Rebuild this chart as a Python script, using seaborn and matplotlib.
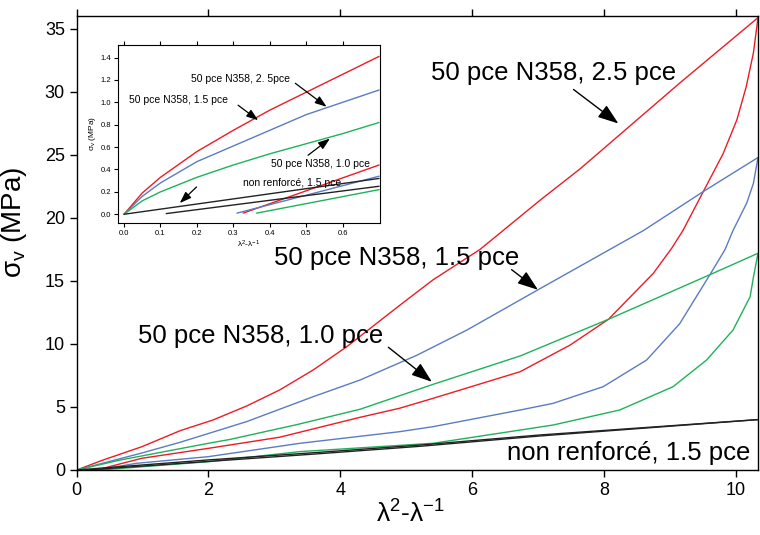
import numpy as np
import pandas as pd
import matplotlib
matplotlib.use("Agg")
import matplotlib.pyplot as plt
import seaborn as sns

# courbes principales (charge puis décharge)
red_up_x = [0, 0.4, 0.99, 1.57, 2.07, 2.58, 3.08, 3.59, 4.10, 4.91, 5.41, 6.12, 7.03, 7.64, 9.15, 10.34]
red_up_y = [0, 0.79, 1.85, 3.12, 3.97, 5.08, 6.35, 7.94, 9.79, 13.1, 15.1, 17.5, 21.4, 23.9, 30.7, 35.9]
red_dn_x = [0.3, 0.99, 2.0, 3.08, 4.30, 4.9, 5.41, 6.73, 7.49, 8.07, 8.75, 9.03, 9.2, 9.51,
            9.81, 10.02, 10.16, 10.27, 10.34]
red_dn_y = [0, 0.93, 1.72, 2.6, 4.18, 4.9, 5.69, 7.8, 9.92, 11.96, 15.6, 17.6, 19.0, 22.1,
            25.1, 27.8, 30.4, 33.1, 35.9]

blue_up_x = [0, 0.99, 1.57, 2.58, 3.59, 4.30, 5.16, 5.92, 7.0, 8.09, 8.6, 9.51, 10.34]
blue_up_y = [0, 1.35, 2.2, 3.84, 5.82, 7.14, 9.1, 11.1, 14.3, 17.5, 19.0, 22.1, 24.8]
blue_dn_x = [0.3, 0.91, 2.0, 3.39, 4.9, 5.41, 6.73, 7.23, 7.99, 8.65, 9.15, 9.61, 9.84,
             9.96, 10.17, 10.27, 10.34]
blue_dn_y = [0, 0.53, 1.06, 2.12, 3.04, 3.44, 4.76, 5.29, 6.61, 8.73, 11.6, 15.5, 17.5,
             19.0, 21.2, 22.75, 24.8]

green_up_x = [0, 0.66, 2.0, 2.33, 3.34, 4.30, 5.41, 6.73, 8.07, 9.61, 10.34]
green_up_y = [0, 0.79, 2.12, 2.43, 3.6, 4.82, 6.8, 9.05, 11.96, 15.5, 17.2]
green_dn_x = [0.35, 2.0, 3.39, 5.41, 6.73, 7.23, 8.24, 9.05, 9.56, 9.96, 10.22, 10.27, 10.34]
green_dn_y = [0, 0.66, 1.46, 2.12, 3.17, 3.57, 4.76, 6.61, 8.73, 11.1, 13.75, 15.3, 17.2]

black_up_x = [0, 2.0, 3.62, 5.21, 7.03, 10.34]
black_up_y = [0, 0.8, 1.38, 1.98, 2.78, 4.0]
black_dn_x = [0.15, 2.0, 3.62, 5.21, 7.03, 10.34]
black_dn_y = [0, 0.68, 1.27, 1.88, 2.7, 4.0]

# encart (petites déformations)
in_x = [0, 0.05, 0.1, 0.2, 0.3, 0.4, 0.5, 0.6, 0.7]
in_red_y = [0, 0.19, 0.33, 0.56, 0.75, 0.93, 1.09, 1.25, 1.41]
in_blue_y = [0, 0.16, 0.28, 0.47, 0.61, 0.75, 0.89, 1.00, 1.11]
in_green_y = [0, 0.12, 0.20, 0.33, 0.44, 0.54, 0.63, 0.72, 0.82]
in_red_dn_x = [0.327, 0.70]
in_red_dn_y = [0.01, 0.44]
in_blue_dn_x = [0.31, 0.5, 0.70]
in_blue_dn_y = [0.01, 0.17, 0.34]
in_green_dn_x = [0.364, 0.70]
in_green_dn_y = [0.01, 0.22]
in_black_up_x = [0, 0.70]
in_black_up_y = [0, 0.32]
in_black_dn_x = [0.116, 0.70]
in_black_dn_y = [0.006, 0.25]

ROUGE = "#ec1c24"
BLEU = "#5a7cc2"
VERT = "#1fb25a"
NOIR = "#222222"

sns.set_style("ticks")
plt.rcParams['font.family'] = ['Liberation Sans', 'DejaVu Sans']
plt.rcParams['mathtext.fontset'] = 'custom'
plt.rcParams['mathtext.rm'] = 'Liberation Sans'
plt.rcParams['mathtext.it'] = 'Liberation Sans:italic'
plt.rcParams['text.color'] = 'black'
plt.rcParams['axes.labelcolor'] = 'black'
plt.rcParams['xtick.color'] = 'black'
plt.rcParams['ytick.color'] = 'black'

fig = plt.figure(figsize=(7.6, 5.35), dpi=100)
ax = fig.add_axes([0.1009, 0.1215, 0.8965, 0.8486])

courbes = [
    (red_up_x, red_up_y, ROUGE), (red_dn_x, red_dn_y, ROUGE),
    (blue_up_x, blue_up_y, BLEU), (blue_dn_x, blue_dn_y, BLEU),
    (green_up_x, green_up_y, VERT), (green_dn_x, green_dn_y, VERT),
    (black_up_x, black_up_y, NOIR), (black_dn_x, black_dn_y, NOIR),
]
for xs, ys, c in courbes:
    sns.lineplot(x=xs, y=ys, sort=False, estimator=None, color=c, lw=1.0, ax=ax)

ax.set_xlim(0, 10.34)
ax.set_ylim(0, 36.03)
ax.set_xticks([0, 2, 4, 6, 8, 10])
ax.set_yticks([0, 5, 10, 15, 20, 25, 30, 35])
ax.tick_params(labelsize=13, direction='out', length=5, width=1, color='black',
               top=True, right=False)
for s in ax.spines.values():
    s.set_color('black')
    s.set_linewidth(1)
ax.set_xlabel(r'$\mathregular{\lambda^2\text{-}\lambda^{-1}}$', fontsize=19)
ax.set_ylabel(r'$\mathregular{\sigma_v}$ (MPa)', fontsize=20)
ax.xaxis.set_label_coords(0.49, -0.068)
ax.yaxis.set_label_coords(-0.07, 0.545)

fl = dict(arrowstyle='-|>,head_length=0.7,head_width=0.25', color='black', lw=1.0,
          mutation_scale=18, shrinkA=0, shrinkB=0)
ax.text(7.23, 31.5, '50 pce N358, 2.5 pce', fontsize=18.5, ha='center', va='center')
ax.annotate('', xy=(8.22, 27.5), xytext=(7.54, 30.2), arrowprops=fl)
ax.text(4.85, 16.8, '50 pce N358, 1.5 pce', fontsize=18.5, ha='center', va='center')
ax.annotate('', xy=(7.0, 14.3), xytext=(6.6, 15.9), arrowprops=fl)
ax.text(2.79, 10.6, '50 pce N358, 1.0 pce', fontsize=18.5, ha='center', va='center')
ax.annotate('', xy=(5.39, 7.0), xytext=(4.73, 9.74), arrowprops=fl)
ax.text(10.22, 1.33, 'non renforcé, 1.5 pce', fontsize=18.5, ha='right', va='center')

# encart
axi = fig.add_axes([0.1553, 0.5832, 0.3447, 0.3327])
axi.set_facecolor('white')
for ys, c in [(in_red_y, ROUGE), (in_blue_y, BLEU), (in_green_y, VERT)]:
    sns.lineplot(x=in_x, y=ys, sort=False, estimator=None, color=c, lw=1.0, ax=axi)
for xs, ys, c in [(in_red_dn_x, in_red_dn_y, ROUGE), (in_blue_dn_x, in_blue_dn_y, BLEU),
                  (in_green_dn_x, in_green_dn_y, VERT), (in_black_up_x, in_black_up_y, NOIR),
                  (in_black_dn_x, in_black_dn_y, NOIR)]:
    sns.lineplot(x=xs, y=ys, sort=False, estimator=None, color=c, lw=1.0, ax=axi)
axi.set_xlim(-0.0165, 0.7025)
axi.set_ylim(-0.078, 1.512)
axi.set_xticks([0, 0.1, 0.2, 0.3, 0.4, 0.5, 0.6])
axi.set_yticks([0, 0.2, 0.4, 0.6, 0.8, 1.0, 1.2, 1.4])
axi.xaxis.set_major_formatter(matplotlib.ticker.FormatStrFormatter('%.1f'))
axi.yaxis.set_major_formatter(matplotlib.ticker.FormatStrFormatter('%.1f'))
axi.tick_params(labelsize=5.5, direction='out', length=3, width=0.8, color='black',
                top=True, right=False, pad=2)
for s in axi.spines.values():
    s.set_color('black')
    s.set_linewidth(0.8)
axi.set_xlabel(r'$\mathregular{\lambda^2\text{-}\lambda^{-1}}$', fontsize=6, labelpad=1)
axi.set_ylabel(r'$\mathregular{\sigma_v}$ (MPa)', fontsize=6, labelpad=2)

fi = dict(arrowstyle='-|>,head_length=0.7,head_width=0.25', color='black', lw=0.9,
          mutation_scale=10, shrinkA=0, shrinkB=0)
axi.text(0.32, 1.21, '50 pce N358, 2. 5pce', fontsize=7.5, ha='center', va='center')
axi.annotate('', xy=(0.556, 0.96), xytext=(0.47, 1.17), arrowprops=fi)
axi.text(0.15, 1.02, '50 pce N358, 1.5 pce', fontsize=7.5, ha='center', va='center')
axi.annotate('', xy=(0.368, 0.84), xytext=(0.313, 0.974), arrowprops=fi)
axi.text(0.54, 0.45, '50 pce N358, 1.0 pce', fontsize=7.5, ha='center', va='center')
axi.annotate('', xy=(0.565, 0.676), xytext=(0.505, 0.527), arrowprops=fi)
axi.text(0.46, 0.28, 'non renforcé, 1.5 pce', fontsize=7.5, ha='center', va='center')
axi.annotate('', xy=(0.153, 0.10), xytext=(0.199, 0.244), arrowprops=fi)

fig.savefig('out.png', dpi=100)
